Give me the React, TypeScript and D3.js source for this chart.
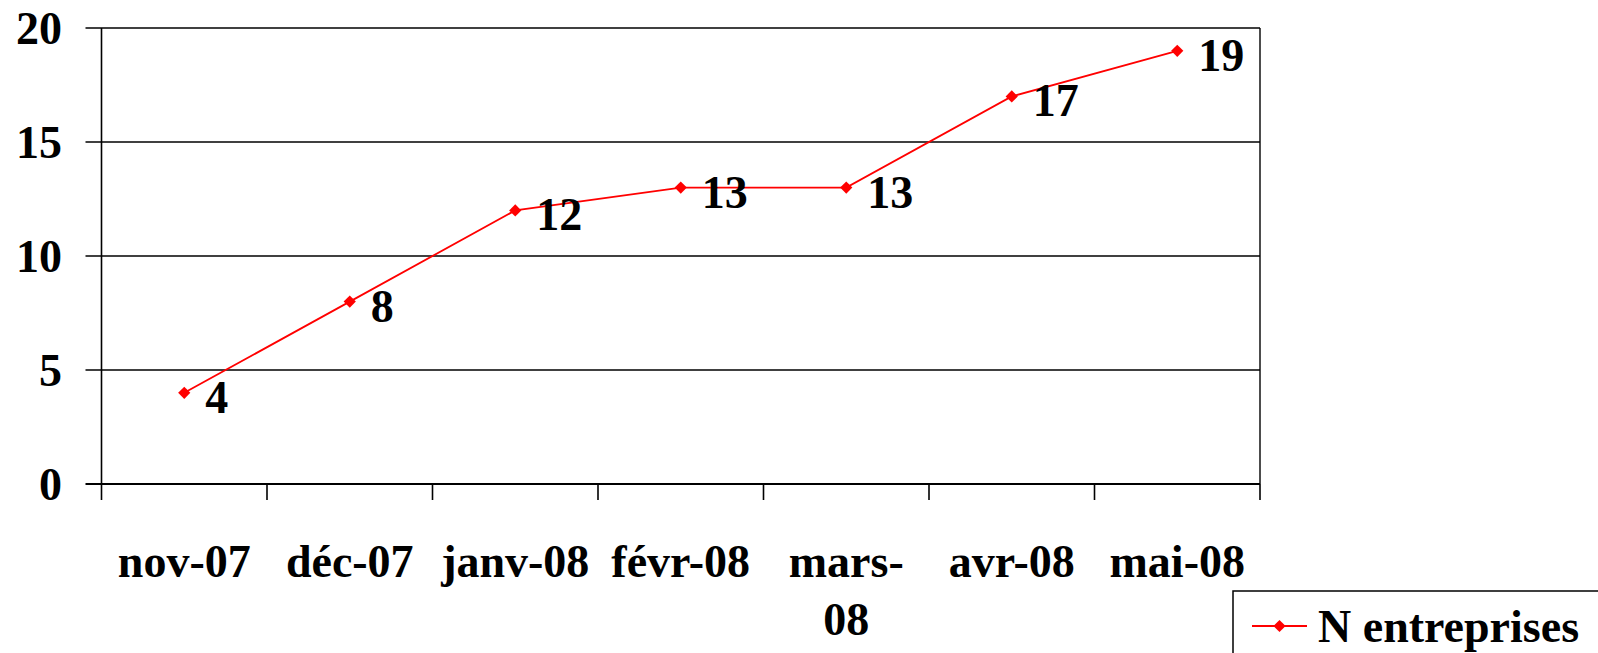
import * as d3 from 'd3';

const months = ['nov-07', 'déc-07', 'janv-08', 'févr-08', 'mars-08', 'avr-08', 'mai-08'];
const monthLines = [['nov-07'], ['déc-07'], ['janv-08'], ['févr-08'], ['mars-', '08'], ['avr-08'], ['mai-08']];
const entreprises = [4, 8, 12, 13, 13, 17, 19];
const yTicks = [0, 5, 10, 15, 20];
const seriesName = 'N entreprises';

const WIDTH = 1598;
const HEIGHT = 653;
const FONT = '"Liberation Serif", "Times New Roman", serif';
const RED = '#ff0000';

export default function App(): JSX.Element {
  const margin = { top: 28, right: 338, bottom: 169, left: 101.5 };

  const x = d3.scaleBand<string>()
    .domain(months)
    .range([margin.left, WIDTH - margin.right])
    .paddingInner(0)
    .paddingOuter(0);

  const y = d3.scaleLinear()
    .domain([0, 20])
    .range([HEIGHT - margin.bottom, margin.top]);

  const cx = (m: string) => (x(m) ?? 0) + x.bandwidth() / 2;

  const line = d3.line<number>()
    .x((_, i) => cx(months[i]))
    .y(d => y(d));

  const diamond = d3.symbol().type(d3.symbolDiamond2).size(95)() || '';

  const x0 = margin.left;
  const x1 = WIDTH - margin.right;
  const y0 = y(0);

  return (
    <svg
      width={WIDTH}
      height={HEIGHT}
      style={{ position: 'absolute', left: 0, top: 0, background: '#fff' }}
      fontFamily={FONT}
      fontWeight="bold"
    >
      {/* gridlines and left ticks */}
      {yTicks.map(t => (
        <line
          key={t}
          x1={x0 - 16}
          x2={x1}
          y1={y(t)}
          y2={y(t)}
          stroke="#000"
          strokeWidth={t === 0 ? 2 : 1.4}
        />
      ))}
      {/* right border */}
      <line x1={x1} x2={x1} y1={y(20)} y2={y0} stroke="#000" strokeWidth={1.4} />
      {/* y axis */}
      <line x1={x0} x2={x0} y1={y(20)} y2={y0 + 16} stroke="#000" strokeWidth={1.6} />

      {/* x ticks */}
      {months.map(m => (
        <line
          key={m}
          x1={(x(m) ?? 0) + x.bandwidth()}
          x2={(x(m) ?? 0) + x.bandwidth()}
          y1={y0}
          y2={y0 + 16}
          stroke="#000"
          strokeWidth={1.6}
        />
      ))}

      {/* y labels */}
      {yTicks.map(t => (
        <text
          key={t}
          x={62}
          y={y(t) + 16}
          textAnchor="end"
          fontSize={46}
        >
          {t}
        </text>
      ))}

      {/* x labels */}
      {months.map((m, i) => (
        <text key={m} x={cx(m)} y={577} textAnchor="middle" fontSize={46}>
          {monthLines[i].map((l, j) => (
            <tspan key={j} x={cx(m)} dy={j === 0 ? 0 : 58}>
              {l}
            </tspan>
          ))}
        </text>
      ))}

      {/* series */}
      <path d={line(entreprises) || ''} fill="none" stroke={RED} strokeWidth={1.8} />
      {entreprises.map((v, i) => (
        <path
          key={i}
          d={diamond}
          transform={`translate(${cx(months[i])},${y(v)})`}
          fill={RED}
        />
      ))}
      {entreprises.map((v, i) => (
        <text key={i} x={cx(months[i]) + 21} y={y(v) + 20} fontSize={46}>
          {v}
        </text>
      ))}

      {/* legend */}
      <rect x={1233} y={591} width={420} height={120} fill="#fff" stroke="#000" strokeWidth={1.5} />
      <line x1={1252} x2={1307} y1={626} y2={626} stroke={RED} strokeWidth={1.8} />
      <path d={diamond} transform="translate(1279.5,626)" fill={RED} />
      <text x={1318} y={642} fontSize={46}>
        {seriesName}
      </text>
    </svg>
  );
}
